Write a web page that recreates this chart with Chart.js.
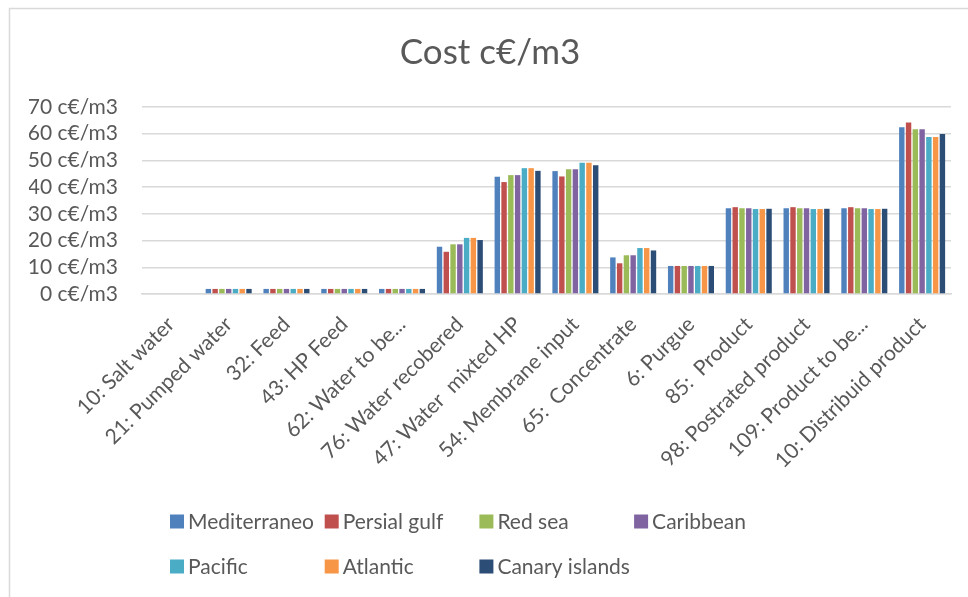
<!DOCTYPE html>
<html>
<head>
<meta charset="utf-8">
<title>Cost c€/m3</title>
<script src="https://cdn.jsdelivr.net/npm/chart.js@4/dist/chart.umd.min.js"></script>
<style>
  html, body { margin: 0; padding: 0; background: #ffffff; }
  #wrap { position: relative; width: 968px; height: 597px; }
  canvas { display: block; }
</style>
</head>
<body>
<div id="wrap"><canvas id="chart" width="968" height="597"></canvas></div>
<script>
// Stream cost per location (c€/m3)
const categories = [
  '10: Salt water', '21: Pumped water', '32: Feed', '43: HP Feed',
  '62: Water to be...', '76: Water recobered', '47: Water  mixted HP',
  '54: Membrane input', '65:  Concentrate', '6: Purgue', '85:  Product',
  '98: Postrated product', '109: Product to be...', '10: Distribuid product'
];

const mediterraneo  = [0, 1.9, 1.9, 1.9, 1.9, 17.7, 43.9, 46.0, 13.7, 10.5, 32.1, 32.1, 32.1, 62.4];
const persialGulf   = [0, 1.9, 1.9, 1.9, 1.9, 15.8, 41.9, 44.0, 11.5, 10.5, 32.5, 32.5, 32.5, 64.2];
const redSea        = [0, 1.9, 1.9, 1.9, 1.9, 18.6, 44.5, 46.7, 14.5, 10.5, 32.1, 32.1, 32.1, 61.7];
const caribbean     = [0, 1.9, 1.9, 1.9, 1.9, 18.6, 44.5, 46.7, 14.5, 10.5, 32.1, 32.1, 32.1, 61.7];
const pacific       = [0, 1.9, 1.9, 1.9, 1.9, 21.0, 47.1, 49.1, 17.2, 10.5, 31.8, 31.8, 31.8, 58.8];
const atlantic      = [0, 1.9, 1.9, 1.9, 1.9, 21.0, 47.1, 49.1, 17.2, 10.5, 31.8, 31.8, 31.8, 58.8];
const canaryIslands = [0, 1.9, 1.9, 1.9, 1.9, 20.2, 46.1, 48.2, 16.3, 10.5, 31.9, 31.9, 31.9, 59.9];

const seriesNames = ['Mediterraneo', 'Persial gulf', 'Red sea', 'Caribbean', 'Pacific', 'Atlantic', 'Canary islands'];
const seriesValues = [mediterraneo, persialGulf, redSea, caribbean, pacific, atlantic, canaryIslands];
const seriesColors = ['#4F81BD', '#C0504D', '#9BBB59', '#8064A2', '#4BACC6', '#F79646', '#2C4D75'];

const yMin = 0, yMax = 70, yStep = 10;
const unit = ' c€/m3';

const FONT = 'Lato, "Open Sans", "Liberation Sans", sans-serif';
const TEXT = '#595959';

// Outer frame, title and a grid-style legend
const decorations = {
  id: 'decorations',
  beforeDraw(chart) {
    const ctx = chart.ctx;
    ctx.save();
    ctx.fillStyle = '#ffffff';
    ctx.fillRect(0, 0, chart.width, chart.height);
    ctx.strokeStyle = '#d9d9d9';
    ctx.lineWidth = 1.5;
    ctx.strokeRect(9.5, 8.5, chart.width + 20, chart.height + 20);
    ctx.restore();
  },
  afterDraw(chart) {
    const ctx = chart.ctx;
    ctx.save();
    ctx.fillStyle = TEXT;
    ctx.textBaseline = 'middle';
    ctx.textAlign = 'center';
    ctx.font = '35px ' + FONT;
    ctx.fillText('Cost c€/m3', 490, 53);

    ctx.font = '21px ' + FONT;
    ctx.textAlign = 'left';
    const colX0 = 170, colW = 154.7, rowY = [521.5, 566.5], box = 14;
    chart.data.datasets.forEach((ds, i) => {
      const col = i % 4, row = Math.floor(i / 4);
      const x = colX0 + col * colW, y = rowY[row];
      ctx.fillStyle = ds.backgroundColor;
      ctx.fillRect(x, y - box / 2, box, box);
      ctx.fillStyle = TEXT;
      ctx.fillText(ds.label, x + 18, y + 1);
    });
    ctx.restore();
  }
};

new Chart(document.getElementById('chart'), {
  type: 'bar',
  data: {
    labels: categories,
    datasets: seriesNames.map((name, i) => ({
      label: name,
      data: seriesValues[i],
      backgroundColor: seriesColors[i],
      borderWidth: 0,
      categoryPercentage: 0.82,
      barPercentage: 0.8
    }))
  },
  options: {
    responsive: false,
    animation: false,
    layout: { padding: { left: 29, right: 17, top: 107, bottom: 0 } },
    plugins: {
      legend: { display: false },
      title: { display: false },
      tooltip: { enabled: false }
    },
    scales: {
      x: {
        grid: { display: false, drawTicks: false },
        border: { display: true, color: '#d9d9d9', width: 1.5 },
        ticks: {
          color: TEXT,
          font: { family: FONT, size: 21 },
          minRotation: 45,
          maxRotation: 45,
          padding: 18,
          autoSkip: false
        },
        afterFit(scale) { scale.height = 303; }
      },
      y: {
        min: yMin,
        max: yMax,
        grid: { color: '#d9d9d9', lineWidth: 1.5, drawTicks: false },
        border: { display: false },
        ticks: {
          stepSize: yStep,
          autoSkip: false,
          color: TEXT,
          font: { family: FONT, size: 21 },
          padding: 24,
          callback: v => v + unit
        },
        afterFit(scale) { scale.width = 113; }
      }
    }
  },
  plugins: [decorations]
});
</script>
</body>
</html>
